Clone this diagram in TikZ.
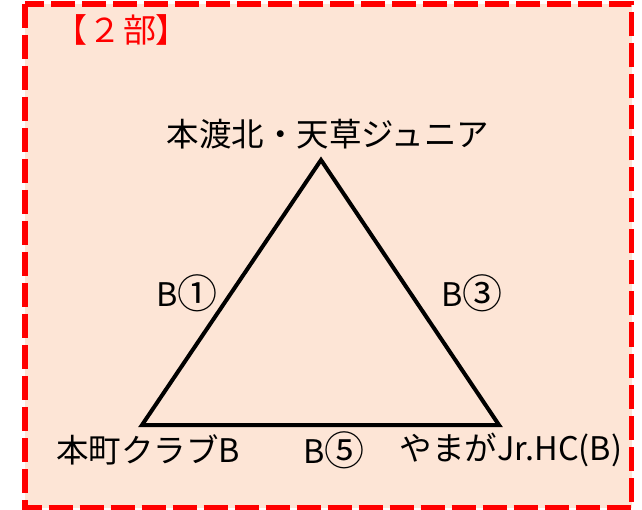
\documentclass[tikz,border=0pt]{standalone}
\usepackage{fontspec}
\setmainfont{Noto Sans CJK JP}
\newfontfamily\propfont[RawFeature=+palt]{Noto Sans CJK JP}
\usetikzlibrary{positioning}
\definecolor{peach}{RGB}{253,229,214}
\newcommand{\bignum}[1]{\raisebox{-2pt}{\fontsize{40}{40}\selectfont #1}}

\begin{document}
\begin{tikzpicture}[x=1pt,y=1pt,node distance=4pt]
        \tikzstyle{team}=[inner sep=0pt, font=\fontsize{32.5}{34}\selectfont]
        \tikzstyle{game}=[inner sep=0pt, font=\fontsize{32.5}{34}\selectfont]
        \tikzstyle{frame}=[draw=red, fill=peach, line width=5.5pt, dash pattern=on 24pt off 7pt]

        \useasboundingbox (0,0) rectangle (642,-510);
        \draw[frame] (25,-4) rectangle (631.5,-507.5);

        \node[team, red, font=\propfont\fontsize{33}{34}\selectfont] (title) at (121.5,-30) {【\,２\,部】};

        \coordinate (top) at (321,-160);
        \coordinate (lft) at (142,-425);
        \coordinate (rgt) at (499,-425);

        \draw[line width=4pt, line join=miter] (top) -- (lft) -- (rgt) -- cycle;

        \node[team] (amakusa) at (328,-134) {本渡北・天草ジュニア};
        \node[team] (honmachi) at (148,-450) {本町クラブB};
        \node[team] (yamaga) at (511,-450) {やまがJr.HC(B)};

        \node[game] (b1) at (187,-293) {B\bignum{①}};
        \node[game] (b3) at (472,-293) {B\bignum{③}};
        \node[game] (b5) at (334,-450) {B\bignum{⑤}};
    \end{tikzpicture}
\end{document}
